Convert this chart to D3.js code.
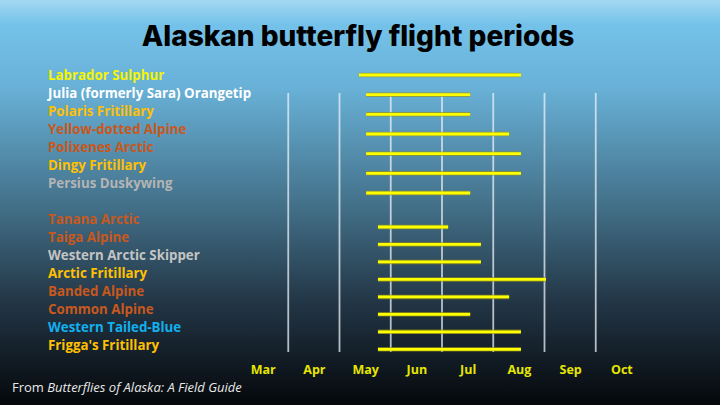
<!DOCTYPE html>
<html>
<head>
<meta charset="utf-8">
<script src="https://cdn.jsdelivr.net/npm/d3@7"></script>
<style>
  body { margin: 0; background: #000; }
  svg { display: block; }
</style>
</head>
<body>
<div id="chart-area"></div>
<script>
// DATA
var butterflies = ["Labrador Sulphur", "Julia (formerly Sara) Orangetip", "Polaris Fritillary",
    "Yellow-dotted Alpine", "Polixenes Arctic", "Dingy Fritillary", "Persius Duskywing",
    "Tanana Arctic", "Taiga Alpine", "Western Arctic Skipper", "Arctic Fritillary",
    "Banded Alpine", "Common Alpine", "Western Tailed-Blue", "Frigga's Fritillary"];
var groups = [1, 1, 1, 1, 1, 1, 1, 2, 2, 2, 2, 2, 2, 2, 2];
// month number + fraction of month (5.5 = mid May)
var flightStart = [5.38, 5.52, 5.52, 5.52, 5.52, 5.52, 5.52,
    5.75, 5.75, 5.75, 5.75, 5.75, 5.75, 5.75, 5.75];
var flightEnd = [8.54, 7.55, 7.55, 8.31, 8.54, 8.54, 7.55,
    7.12, 7.76, 7.76, 9.03, 8.31, 7.55, 8.54, 8.54];
var labelColors = ["#f5f500", "#ffffff", "#ffc000", "#c8581c", "#c8581c", "#ffc000", "#b4b4b4",
    "#c8581c", "#c8581c", "#c4c4c4", "#ffc000", "#c8581c", "#c8581c", "#12b0ee", "#ffc000"];
var monthNames = ["Mar", "Apr", "May", "Jun", "Jul", "Aug", "Sep", "Oct"];
var monthStarts = [4, 5, 6, 7, 8, 9, 10];   // gridlines at the first of each month

var width = 720, height = 405;

var svg = d3.select("#chart-area")
    .append("svg")
        .attr("width", width)
        .attr("height", height);

// BACKGROUND
var defs = svg.append("defs");
var grad = defs.append("linearGradient")
    .attr("id", "bg")
    .attr("x1", 0).attr("y1", 0)
    .attr("x2", 0).attr("y2", 1);
[["0%", "#a4d8f2"], ["6%", "#74c2ea"], ["22%", "#68b0d6"], ["50%", "#44728b"],
 ["75%", "#223545"], ["100%", "#05080b"]].forEach(function(s) {
    grad.append("stop").attr("offset", s[0]).attr("stop-color", s[1]);
});
svg.append("rect")
    .attr("width", width)
    .attr("height", height)
    .attr("fill", "url(#bg)");

// SCALES
var x = d3.scaleLinear()
    .domain([3, 11])          // Mar 1 .. Nov 1
    .range([237, 647]);

var rows = butterflies.slice(0, 7).concat([""], butterflies.slice(7));
var yLabel = d3.scalePoint()
    .domain(d3.range(rows.length))
    .range([75, 345]);

// bars sit on their own spacing in each block
var yBar1 = d3.scalePoint().domain(d3.range(7)).range([75, 193]);
var yBar2 = d3.scalePoint().domain(d3.range(8)).range([227, 349.3]);

var data = butterflies.map(function(name, i) {
    var row = groups[i] == 1 ? i : i + 1;
    return {
        name: name,
        start: flightStart[i],
        end: flightEnd[i],
        color: labelColors[i],
        row: row,
        barY: groups[i] == 1 ? yBar1(i) : yBar2(i - 7)
    };
});

// TITLE
svg.append("text")
    .attr("x", 358)
    .attr("y", 46)
    .attr("text-anchor", "middle")
    .attr("font-family", "Inter, 'Open Sans', sans-serif")
    .attr("font-weight", 800)
    .attr("font-size", "28px")
    .attr("fill", "#000")
    .text("Alaskan butterfly flight periods");

// GRIDLINES
svg.append("g")
    .selectAll("line")
    .data(monthStarts)
    .enter()
    .append("line")
        .attr("x1", function(d) { return x(d); })
        .attr("x2", function(d) { return x(d); })
        .attr("y1", 93)
        .attr("y2", 352)
        .attr("stroke", "rgba(235,240,245,0.75)")
        .attr("stroke-width", 1.8);

// MONTH LABELS
var xAxisCall = d3.axisBottom(x)
    .tickValues(d3.range(3.5, 11, 1))
    .tickSize(0)
    .tickFormat(function(d, i) { return monthNames[i]; });
var xAxis = svg.append("g")
    .attr("transform", "translate(0,362)")
    .call(xAxisCall);
xAxis.select(".domain").remove();
xAxis.selectAll("text")
    .attr("font-family", "'Open Sans', sans-serif")
    .attr("font-weight", 700)
    .attr("font-size", "12.5px")
    .attr("fill", "#e6e600");

// BUTTERFLY LABELS
svg.append("g")
    .selectAll("text")
    .data(data)
    .enter()
    .append("text")
        .attr("x", 48)
        .attr("y", function(d) { return yLabel(d.row); })
        .attr("dy", "0.36em")
        .attr("font-family", "'Open Sans', sans-serif")
        .attr("font-weight", 700)
        .attr("font-size", "13.3px")
        .attr("fill", function(d) { return d.color; })
        .text(function(d) { return d.name; });

// FLIGHT BARS
var bars = svg.append("g");
bars.selectAll("line.glow")
    .data(data)
    .enter()
    .append("line")
        .attr("class", "glow")
        .attr("x1", function(d) { return x(d.start); })
        .attr("x2", function(d) { return x(d.end); })
        .attr("y1", function(d) { return d.barY; })
        .attr("y2", function(d) { return d.barY; })
        .attr("stroke", "rgba(150,150,20,0.7)")
        .attr("stroke-width", 4.5);
bars.selectAll("line.bar")
    .data(data)
    .enter()
    .append("line")
        .attr("class", "bar")
        .attr("x1", function(d) { return x(d.start); })
        .attr("x2", function(d) { return x(d.end); })
        .attr("y1", function(d) { return d.barY; })
        .attr("y2", function(d) { return d.barY; })
        .attr("stroke", "#ffff00")
        .attr("stroke-width", 2.8);

// SOURCE
var source = svg.append("text")
    .attr("x", 12)
    .attr("y", 392)
    .attr("font-family", "'Open Sans', sans-serif")
    .attr("font-size", "13px")
    .attr("fill", "#e8e8e8");
source.append("tspan").text("From ");
source.append("tspan").attr("font-style", "italic").text("Butterflies of Alaska: A Field Guide");
</script>
</body>
</html>
